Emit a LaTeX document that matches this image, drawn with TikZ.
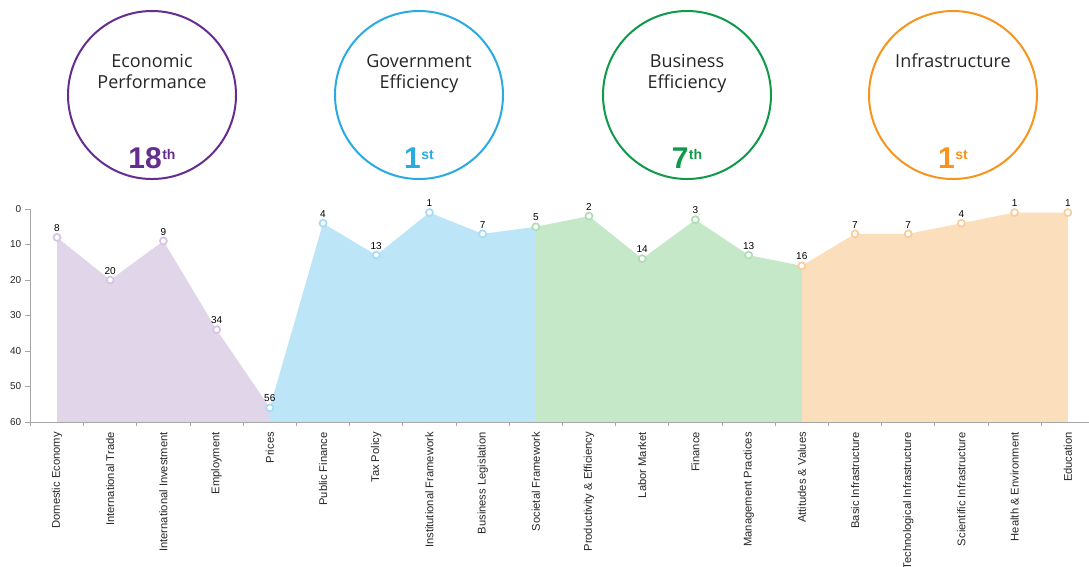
\documentclass[tikz,border=0pt]{standalone}
\usepackage{fontspec}
\setmainfont{Liberation Sans}
\newfontfamily\headfont{Open Sans}
\usepackage{tikz}
\usetikzlibrary{positioning}
\definecolor{ink}{HTML}{262626}
\definecolor{axisgray}{HTML}{A6A6A6}
\definecolor{econ}{HTML}{662D91}
\definecolor{econfill}{HTML}{E1D5E9}
\definecolor{econring}{HTML}{D5C3E1}
\definecolor{gov}{HTML}{29ABE2}
\definecolor{govfill}{HTML}{BDE5F8}
\definecolor{govring}{HTML}{A6DBF5}
\definecolor{bus}{HTML}{0E9A48}
\definecolor{busfill}{HTML}{C5E8C8}
\definecolor{busring}{HTML}{AEDDB3}
\definecolor{infra}{HTML}{F7941D}
\definecolor{infrafill}{HTML}{FBDEBB}
\definecolor{infraring}{HTML}{F8CC9C}
\tikzstyle{pillar} = [circle, draw, line width=2pt, minimum size=168pt, inner sep=0pt]
\tikzstyle{head} = [font=\headfont\fontsize{18}{21}\selectfont, text=ink, align=center, anchor=north, inner sep=0pt]
\tikzstyle{rank} = [font=\bfseries\fontsize{30}{30}\selectfont, anchor=base, inner sep=0pt]
\tikzstyle{dot} = [circle, fill=white, draw, line width=1.7pt, minimum size=7pt, inner sep=0pt]
\tikzstyle{val} = [font=\fontsize{10}{10}\selectfont, text=black, inner sep=0pt]
\tikzstyle{cat} = [font=\fontsize{11.2}{12}\selectfont, text=ink, rotate=90, anchor=east, inner sep=0pt]
\tikzstyle{ylab} = [font=\fontsize{10}{10}\selectfont, text=ink, inner sep=0pt]
\tikzstyle{axis} = [draw=axisgray, line width=1pt]
\newcommand{\ranksup}[1]{\kern0.5pt\raisebox{9pt}{\fontsize{14}{14}\selectfont #1}}

\begin{document}
\begin{tikzpicture}[x=1pt, y=-1pt]
    \useasboundingbox (0,0) rectangle (1089,566);
    % the four pillars
    \node[pillar, draw=econ] (econ) at (152,95) {};
    \node[pillar, draw=gov] (gov) at (419,95) {};
    \node[pillar, draw=bus] (bus) at (687,95) {};
    \node[pillar, draw=infra] (infra) at (953,95) {};
    \node[head] (econt) at (152,54) {Economic\\Performance};
    \node[head] (govt) at (419,54) {Government\\Efficiency};
    \node[head] (bust) at (687,54) {Business\\Efficiency};
    \node[head] (infrat) at (953,54) {Infrastructure};
    \node[rank, text=econ] (econr) at (152,168) {18\ranksup{th}};
    \node[rank, text=gov] (govr) at (419,168) {1\ranksup{st}};
    \node[rank, text=bus] (busr) at (687,168) {7\ranksup{th}};
    \node[rank, text=infra] (infrar) at (953,168) {1\ranksup{st}};

    % ranking chart
    \begin{scope}[shift={(3.8,209)}, x=53.2pt, y=-3.55pt]
        \fill[econfill] (1,60) -- (1,8) -- (2,20) -- (3,9) -- (4,34) -- (5,56) -- (5,60) -- cycle;
        \fill[govfill] (5,60) -- (5,56) -- (6,4) -- (7,13) -- (8,1) -- (9,7) -- (10,5) -- (10,60) -- cycle;
        \fill[busfill] (10,60) -- (10,5) -- (11,2) -- (12,14) -- (13,3) -- (14,13) -- (15,16) -- (15,60) -- cycle;
        \fill[infrafill] (15,60) -- (15,16) -- (16,7) -- (17,7) -- (18,4) -- (19,1) -- (20,1) -- (20,60) -- cycle;

        % axes
        \path[axis] (0.5,0) -- (0.5,60) -- (20.45,60);
        \path[axis] (0.5,0) -- ++(-0.1,0) (0.5,10) -- ++(-0.1,0) (0.5,20) -- ++(-0.1,0)
            (0.5,30) -- ++(-0.1,0) (0.5,40) -- ++(-0.1,0) (0.5,50) -- ++(-0.1,0) (0.5,60) -- ++(-0.1,0);
        \path[axis] (0.5,60) -- ++(0,1) (1.5,60) -- ++(0,1) (2.5,60) -- ++(0,1) (3.5,60) -- ++(0,1)
            (4.5,60) -- ++(0,1) (5.5,60) -- ++(0,1) (6.5,60) -- ++(0,1) (7.5,60) -- ++(0,1)
            (8.5,60) -- ++(0,1) (9.5,60) -- ++(0,1) (10.5,60) -- ++(0,1) (11.5,60) -- ++(0,1)
            (12.5,60) -- ++(0,1) (13.5,60) -- ++(0,1) (14.5,60) -- ++(0,1) (15.5,60) -- ++(0,1)
            (16.5,60) -- ++(0,1) (17.5,60) -- ++(0,1) (18.5,60) -- ++(0,1) (19.5,60) -- ++(0,1);
        \node[ylab, left=9pt] (y0) at (0.5,0) {0};
        \node[ylab, left=9pt] (y10) at (0.5,10) {10};
        \node[ylab, left=9pt] (y20) at (0.5,20) {20};
        \node[ylab, left=9pt] (y30) at (0.5,30) {30};
        \node[ylab, left=9pt] (y40) at (0.5,40) {40};
        \node[ylab, left=9pt] (y50) at (0.5,50) {50};
        \node[ylab, left=9pt] (y60) at (0.5,60) {60};

        % points and values
        \node[dot, draw=econring] (d1) at (1,8) {};
        \node[dot, draw=econring] (d2) at (2,20) {};
        \node[dot, draw=econring] (d3) at (3,9) {};
        \node[dot, draw=econring] (d4) at (4,34) {};
        \node[dot, draw=govring] (d5) at (5,56) {};
        \node[dot, draw=govring] (d6) at (6,4) {};
        \node[dot, draw=govring] (d7) at (7,13) {};
        \node[dot, draw=govring] (d8) at (8,1) {};
        \node[dot, draw=govring] (d9) at (9,7) {};
        \node[dot, draw=busring] (d10) at (10,5) {};
        \node[dot, draw=busring] (d11) at (11,2) {};
        \node[dot, draw=busring] (d12) at (12,14) {};
        \node[dot, draw=busring] (d13) at (13,3) {};
        \node[dot, draw=busring] (d14) at (14,13) {};
        \node[dot, draw=infraring] (d15) at (15,16) {};
        \node[dot, draw=infraring] (d16) at (16,7) {};
        \node[dot, draw=infraring] (d17) at (17,7) {};
        \node[dot, draw=infraring] (d18) at (18,4) {};
        \node[dot, draw=infraring] (d19) at (19,1) {};
        \node[dot, draw=infraring] (d20) at (20,1) {};
        \node[val, above=1.2pt of d1] (v1) {8};
        \node[val, above=1.2pt of d2] (v2) {20};
        \node[val, above=1.2pt of d3] (v3) {9};
        \node[val, above=1.2pt of d4] (v4) {34};
        \node[val, above=1.2pt of d5] (v5) {56};
        \node[val, above=1.2pt of d6] (v6) {4};
        \node[val, above=1.2pt of d7] (v7) {13};
        \node[val, above=1.2pt of d8] (v8) {1};
        \node[val, above=1.2pt of d9] (v9) {7};
        \node[val, above=1.2pt of d10] (v10) {5};
        \node[val, above=1.2pt of d11] (v11) {2};
        \node[val, above=1.2pt of d12] (v12) {14};
        \node[val, above=1.2pt of d13] (v13) {3};
        \node[val, above=1.2pt of d14] (v14) {13};
        \node[val, above=1.2pt of d15] (v15) {16};
        \node[val, above=1.2pt of d16] (v16) {7};
        \node[val, above=1.2pt of d17] (v17) {7};
        \node[val, above=1.2pt of d18] (v18) {4};
        \node[val, above=1.2pt of d19] (v19) {1};
        \node[val, above=1.2pt of d20] (v20) {1};

        % factor names
        \node[cat] (c1) at (1,62.8) {Domestic Economy};
        \node[cat] (c2) at (2,62.8) {International Trade};
        \node[cat] (c3) at (3,62.8) {International Investment};
        \node[cat] (c4) at (4,62.8) {Employment};
        \node[cat] (c5) at (5,62.8) {Prices};
        \node[cat] (c6) at (6,62.8) {Public Finance};
        \node[cat] (c7) at (7,62.8) {Tax Policy};
        \node[cat] (c8) at (8,62.8) {Institutional Framework};
        \node[cat] (c9) at (9,62.8) {Business Legislation};
        \node[cat] (c10) at (10,62.8) {Societal Framework};
        \node[cat] (c11) at (11,62.8) {Productivity \& Efficiency};
        \node[cat] (c12) at (12,62.8) {Labor Market};
        \node[cat] (c13) at (13,62.8) {Finance};
        \node[cat] (c14) at (14,62.8) {Management Practices};
        \node[cat] (c15) at (15,62.8) {Attitudes \& Values};
        \node[cat] (c16) at (16,62.8) {Basic Infrastructure};
        \node[cat] (c17) at (17,62.8) {Technological Infrastructure};
        \node[cat] (c18) at (18,62.8) {Scientific Infrastructure};
        \node[cat] (c19) at (19,62.8) {Health \& Environment};
        \node[cat] (c20) at (20,62.8) {Education};
    \end{scope}
\end{tikzpicture}
\end{document}
